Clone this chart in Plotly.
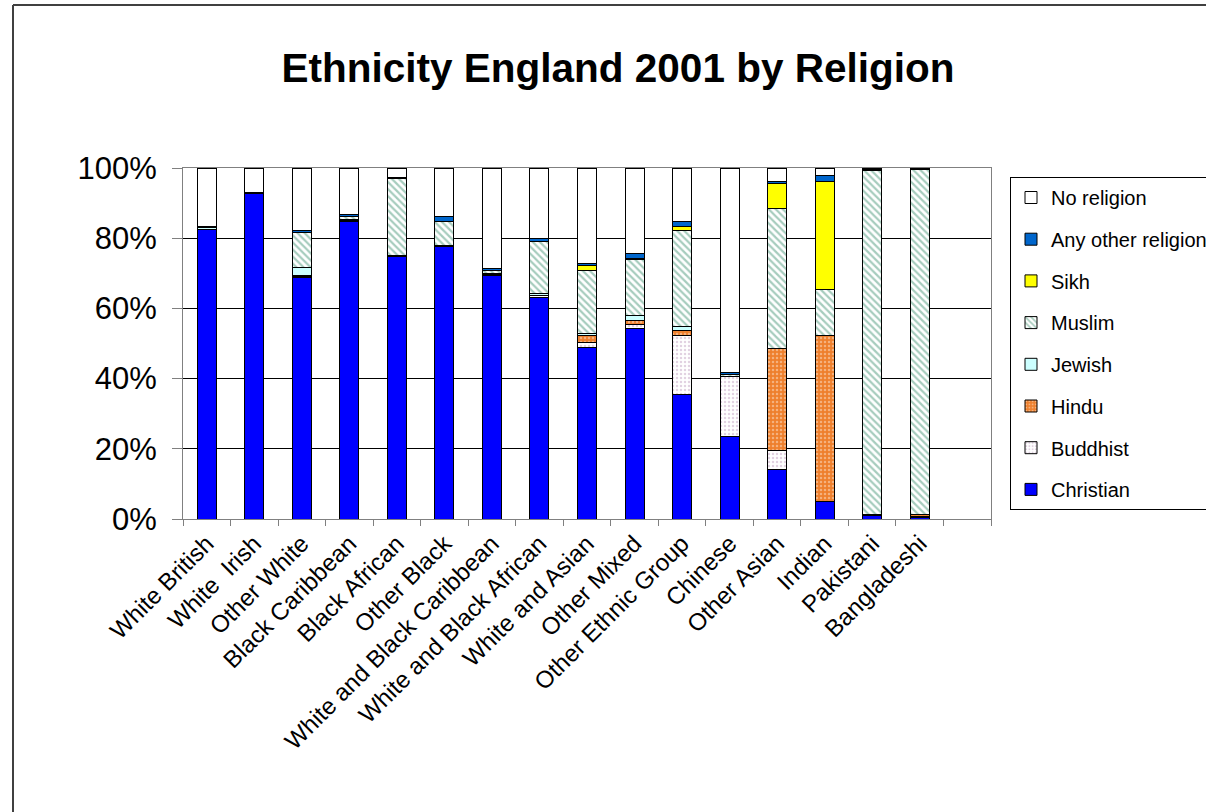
import plotly.graph_objects as go

# Ethnic groups (England, 2001) and share of each religion, in percent
groups = ["White British", "White  Irish", "Other White", "Black Caribbean",
          "Black African", "Other Black", "White and Black Caribbean",
          "White and Black African", "White and Asian", "Other Mixed",
          "Other Ethnic Group", "Chinese", "Other Asian", "Indian",
          "Pakistani", "Bangladeshi"]

christian = [82.5, 92.6, 68.7, 84.9, 74.8, 77.6, 69.4, 63.2, 49.0, 54.2, 35.5, 23.6, 14.1, 4.9, 1.1, 0.5]
buddhist  = [0.1, 0.1, 0.4, 0.2, 0.1, 0.2, 0.4, 0.4, 1.2, 1.3, 16.8, 16.9, 5.3, 0.2, 0.0, 0.1]
hindu     = [0.0, 0.0, 0.2, 0.2, 0.2, 0.1, 0.1, 0.2, 2.0, 1.1, 1.5, 0.1, 29.1, 47.2, 0.1, 0.6]
jewish    = [0.4, 0.1, 2.4, 0.1, 0.1, 0.0, 0.1, 0.4, 0.6, 1.3, 1.1, 0.1, 0.1, 0.1, 0.0, 0.0]
muslim    = [0.1, 0.1, 9.9, 0.8, 21.7, 6.8, 0.7, 14.9, 18.1, 16.1, 27.3, 0.4, 39.9, 13.1, 98.1, 98.3]
sikh      = [0.0, 0.0, 0.1, 0.0, 0.0, 0.1, 0.1, 0.1, 1.4, 0.3, 1.1, 0.0, 7.0, 30.6, 0.1, 0.0]
other_rel = [0.3, 0.2, 0.6, 0.6, 0.4, 1.5, 0.6, 0.6, 0.6, 1.4, 1.6, 0.7, 0.6, 1.9, 0.1, 0.1]
no_rel    = [16.6, 6.9, 17.7, 13.2, 2.7, 13.7, 28.6, 20.2, 27.1, 24.3, 15.1, 58.2, 3.9, 2.0, 0.5, 0.4]

# one spare slot at the right end of the category axis
axis_categories = groups + [" "]

y_ticks = [0, 20, 40, 60, 80, 100]
y_tick_labels = ["0%", "20%", "40%", "60%", "80%", "100%"]

FONT = "Arial, 'Liberation Sans', sans-serif"

# stacked bottom-to-top; legend lists them top-to-bottom
series = [
    ("Christian", christian, dict(color="#0000FF")),
    ("Buddhist", buddhist, dict(color="#FFFFFF",
                                pattern=dict(shape=".", bgcolor="#FFFFFF", fgcolor="#C4A4C4",
                                             size=4, solidity=0.3))),
    ("Hindu", hindu, dict(color="#EE7F2D",
                          pattern=dict(shape=".", bgcolor="#EE7F2D", fgcolor="#FCE2CC",
                                       size=4, solidity=0.3))),
    ("Jewish", jewish, dict(color="#CCFFFF")),
    ("Muslim", muslim, dict(color="#FFFFFF",
                            pattern=dict(shape="\\", bgcolor="#FFFFFF", fgcolor="#4E9A7C",
                                         size=5, solidity=0.45))),
    ("Sikh", sikh, dict(color="#FFFF00")),
    ("Any other religion", other_rel, dict(color="#0066CC")),
    ("No religion", no_rel, dict(color="#FFFFFF")),
]

fig = go.Figure()
n = len(series)
for i, (name, vals, mk) in enumerate(series):
    marker = dict(mk)
    marker["line"] = dict(color="#000000", width=1)
    fig.add_trace(go.Bar(
        x=groups, y=vals, name=name, marker=marker,
        legendgroup=name, legendrank=n - i, hoverinfo="x+y+name",
    ))

W, H = 1206, 812
L, R, T, B = 183, 991, 168, 519  # plot area in pixels

fig.update_layout(
    width=W, height=H,
    margin=dict(l=L, r=W - R, t=T, b=H - B, pad=0),
    paper_bgcolor="#FFFFFF", plot_bgcolor="#FFFFFF",
    barmode="stack", bargap=0.6,
    font=dict(family=FONT, color="#000000"),
    title=dict(text="<b>Ethnicity England 2001 by Religion</b>",
               x=618 / W, xref="container", xanchor="center",
               y=1 - 68 / H, yref="container", yanchor="middle",
               font=dict(size=40.5, family=FONT, color="#000000")),
    showlegend=True,
    legend=dict(xref="container", yref="container",
                x=1010 / W, xanchor="left", y=1 - 177 / H, yanchor="top",
                traceorder="grouped", tracegroupgap=12.7,
                bordercolor="#000000", borderwidth=1, bgcolor="#FFFFFF",
                font=dict(size=20, family=FONT, color="#000000"),
                itemwidth=30),
    xaxis=dict(type="category", categoryorder="array", categoryarray=axis_categories,
               range=[-0.5, len(axis_categories) - 0.5],
               tickangle=-45, tickson="boundaries", ticks="outside", ticklen=6,
               tickcolor="#808080", tickwidth=1,
               showline=True, linecolor="#808080", linewidth=1, mirror=True,
               showgrid=False, tickfont=dict(size=24, family=FONT, color="#000000")),
    yaxis=dict(range=[0, 100], tickmode="array", tickvals=y_ticks, ticktext=y_tick_labels,
               ticks="outside", ticklen=10, tickcolor="#808080", tickwidth=1,
               showline=True, linecolor="#808080", linewidth=1, mirror=True,
               showgrid=True, gridcolor="#000000", gridwidth=1,
               zeroline=False, ticklabelstandoff=9,
               tickfont=dict(size=31, family=FONT, color="#000000")),
)

# chart-area frame (top and left edges)
pw, ph = R - L, B - T
def px_x(v):
    return (v - L) / pw
def px_y(v):
    return (B - v) / ph
fig.add_shape(type="line", xref="paper", yref="paper",
              x0=px_x(13), x1=px_x(W + 5), y0=px_y(5), y1=px_y(5),
              line=dict(color="#404040", width=2))
fig.add_shape(type="line", xref="paper", yref="paper",
              x0=px_x(13), x1=px_x(13), y0=px_y(5), y1=px_y(H + 5),
              line=dict(color="#404040", width=2))

fig.write_html("out.html")
